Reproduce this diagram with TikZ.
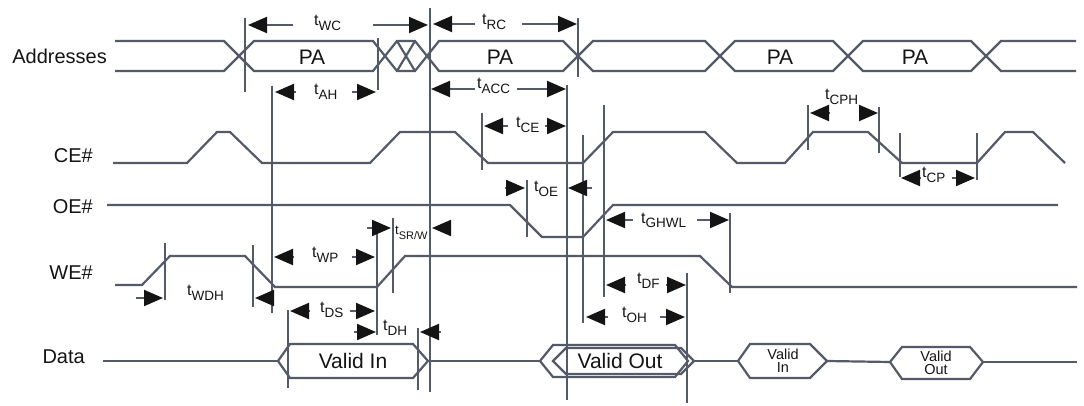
\documentclass[tikz,border=0pt]{standalone}
\usepackage{fontspec}
\setmainfont{Liberation Sans}
\usetikzlibrary{arrows.meta}
\definecolor{sig}{RGB}{84,90,104}
\definecolor{ink}{RGB}{20,20,20}
\newcommand{\tm}[1]{{\fontsize{16}{16}\selectfont t}\raisebox{-5pt}{\fontsize{13.5}{13.5}\selectfont #1}}
\newcommand{\tms}[1]{{\fontsize{13}{13}\selectfont t}\raisebox{-5pt}{\fontsize{11}{11}\selectfont #1}}
\begin{document}
\begin{tikzpicture}[x=1pt,y=-1pt,
  wave/.style={draw=sig,line width=2.2pt,line join=miter},
  guide/.style={draw=sig,line width=2pt},
  dimar/.style={draw=sig,line width=2pt,-{Triangle[length=19pt,width=16pt,color=ink]}},
  tlab/.style={anchor=base west,inner sep=0pt,text=ink},
  sname/.style={anchor=east,inner sep=0pt,text=ink,font=\fontsize{20}{20}\selectfont},
  bustext/.style={text=ink,inner sep=0pt,font=\fontsize{21}{21}\selectfont},
  smalltext/.style={text=ink,inner sep=0pt,align=center,font=\fontsize{14.5}{13}\selectfont}]
\useasboundingbox (0,0) rectangle (1084,406);

% signal names
\node[sname] (nAddr) at (107,56) {Addresses};
\node[sname] (nCE) at (93,156) {CE\#};
\node[sname] (nOE) at (93,207) {OE\#};
\node[sname] (nWE) at (93,273) {WE\#};
\node[sname] (nData) at (85,357) {Data};

% address bus
\draw[wave] (115,41)--(224,41)--(254,71)--(373,71)--(397,41)--(415,41)--(439,71)--(563,71)--(593,41)--(705,41)--(735,71)--(833,71)--(863,41)--(971,41)--(1001,71)--(1076,71);
\draw[wave] (115,71)--(224,71)--(254,41)--(373,41)--(397,71)--(415,71)--(439,41)--(563,41)--(593,71)--(705,71)--(735,41)--(833,41)--(863,71)--(971,71)--(1001,41)--(1076,41);
\draw[wave] (397,41)--(415,71) (415,41)--(397,71);
\node[bustext] (pa1) at (312,57) {PA};
\node[bustext] (pa2) at (500,57) {PA};
\node[bustext] (pa3) at (780,57) {PA};
\node[bustext] (pa4) at (915,57) {PA};

% CE#
\draw[wave] (113,163)--(187,163)--(217,132)--(230,132)--(262,163)--(370,163)--(400,132)--(455,132)--(488,163)--(583,163)--(613,132)--(705,132)--(737,163)--(785,163)--(813,132)--(868,132)--(902,163)--(977,163)--(1005,132)--(1033,132)--(1065,163);

% OE#
\draw[wave] (107,205)--(510,205)--(542,237)--(583,237)--(613,205)--(1058,205);

% WE#
\draw[wave] (115,285)--(142,285)--(170,256)--(245,256)--(275,287)--(377,287)--(405,256)--(700,256)--(732,287)--(1077,287);

% Data
\draw[wave] (103,361)--(278,361);
\draw[wave] (278,361)--(290,344)--(413,344)--(428,361)--(413,378)--(290,378)--cycle;
\node[bustext] (vin) at (353,361) {Valid In};
\draw[wave] (428,361)--(540,361);
\draw[wave] (540,361)--(553,345)--(675,345)--(688,361)--(675,377)--(553,377)--cycle;
\draw[wave] (553,361)--(566,348)--(681,348)--(694,361)--(681,374)--(566,374)--cycle;
\node[bustext] (vout) at (620,361) {Valid Out};
\draw[wave] (694,361)--(738,361);
\draw[wave] (738,361)--(750,344)--(810,344)--(827,361)--(810,378)--(750,378)--cycle;
\node[smalltext] (vin2) at (783,361) {Valid\\In};
\draw[wave] (827,361)--(890,362);
\draw[wave] (890,362)--(902,347)--(970,347)--(983,362)--(970,379)--(902,379)--cycle;
\node[smalltext] (vout2) at (936,363) {Valid\\Out};
\draw[wave] (983,362)--(1077,362);

% reference (guide) lines
\draw[guide] (245,18)--(245,92);
\draw[guide] (378,38)--(378,90);
\draw[guide] (272,86)--(272,313);
\draw[guide] (430,8)--(430,392);
\draw[guide] (578,18)--(578,77);
\draw[guide] (165,243)--(165,300);
\draw[guide] (253,245)--(253,307);
\draw[guide] (377,227)--(377,335);
\draw[guide] (393,218)--(393,293);
\draw[guide] (288,310)--(288,388);
\draw[guide] (418,328)--(418,390);
\draw[guide] (482,113)--(482,170);
\draw[guide] (567,85)--(567,400);
\draw[guide] (527,180)--(527,237);
\draw[guide] (583,135)--(583,323);
\draw[guide] (604,105)--(604,297);
\draw[guide] (687,273)--(687,403);
\draw[guide] (730,213)--(730,293);
\draw[guide] (808,105)--(808,150);
\draw[guide] (879,107)--(879,153);
\draw[guide] (900,133)--(900,177);
\draw[guide] (977,133)--(977,180);

% timing labels
\node[tlab] (lWC) at (314,26) {\tm{WC}};
\node[tlab] (lRC) at (482,25) {\tm{RC}};
\node[tlab] (lAH) at (314,95) {\tm{AH}};
\node[tlab] (lACC) at (477,89) {\tm{ACC}};
\node[tlab] (lCE) at (516,128) {\tm{CE}};
\node[tlab] (lCPH) at (825,100) {\tm{CPH}};
\node[tlab] (lCP) at (922,178) {\tm{CP}};
\node[tlab] (lOE) at (534,192) {\tm{OE}};
\node[tlab] (lSRW) at (395,235) {\tms{SR/W}};
\node[tlab] (lGHWL) at (641,223) {\tm{GHWL}};
\node[tlab] (lDF) at (637,283) {\tm{DF}};
\node[tlab] (lOH) at (622,317) {\tm{OH}};
\node[tlab] (lWDH) at (187,295) {\tm{WDH}};
\node[tlab] (lWP) at (312,258) {\tm{WP}};
\node[tlab] (lDS) at (320,312) {\tm{DS}};
\node[tlab] (lDH) at (383,330) {\tm{DH}};

% timing arrows
\draw[dimar] (293,25)--(248,25);  \draw[dimar] (373,25)--(428,25);
\draw[dimar] (475,24)--(433,24);  \draw[dimar] (522,24)--(577,24);
\draw[dimar] (296,92)--(275,92);  \draw[dimar] (352,92)--(376,92);
\draw[dimar] (475,89)--(431,89);  \draw[dimar] (517,89)--(566,89);
\draw[dimar] (508,126)--(484,126); \draw[dimar] (545,126)--(566,126);
\draw[dimar] (829,113)--(810,113); \draw[dimar] (859,113)--(878,113);
\draw[dimar] (921,178)--(901,178); \draw[dimar] (952,178)--(975,178);
\draw[dimar] (505,188)--(525,188); \draw[dimar] (592,188)--(568,188);
\draw[dimar] (367,228)--(391,228); \draw[dimar] (448,228)--(432,228);
\draw[dimar] (633,220)--(606,220); \draw[dimar] (697,220)--(729,220);
\draw[dimar] (626,285)--(606,285); \draw[dimar] (666,285)--(686,285);
\draw[dimar] (608,317)--(586,317); \draw[dimar] (660,317)--(685,317);
\draw[dimar] (136,298)--(163,298); \draw[dimar] (273,298)--(255,298);
\draw[dimar] (294,257)--(274,257); \draw[dimar] (352,257)--(375,257);
\draw[dimar] (310,311)--(290,311); \draw[dimar] (350,311)--(375,311);
\draw[dimar] (354,332)--(376,332); \draw[dimar] (441,332)--(420,332);
\end{tikzpicture}
\end{document}
